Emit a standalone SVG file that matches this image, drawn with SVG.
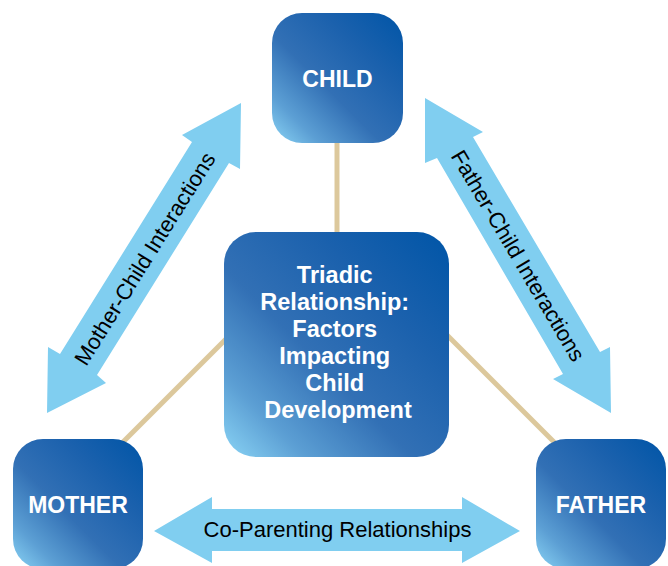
<svg xmlns="http://www.w3.org/2000/svg" width="668" height="566" viewBox="0 0 668 566">
<defs>
<linearGradient id="boxGrad" x1="0" y1="1" x2="1" y2="0">
<stop offset="0" stop-color="#8AD4F5"/>
<stop offset="0.18" stop-color="#5C9FD4"/>
<stop offset="0.42" stop-color="#3270B5"/>
<stop offset="0.7" stop-color="#1B61AD"/>
<stop offset="1" stop-color="#0055A7"/>
</linearGradient>
<style>
.box{fill:url(#boxGrad);}
.lbl{font-family:"Liberation Sans",Arial,sans-serif;font-weight:bold;fill:#ffffff;text-anchor:middle;}
.arrow{fill:#80CEF0;}
.atxt{font-family:"Liberation Sans",Arial,sans-serif;font-size:22px;fill:#000000;text-anchor:middle;}
.link{stroke:#DCC89C;stroke-width:5;fill:none;}
</style>
</defs>
<rect width="668" height="566" fill="#ffffff"/>
<g id="connectors">
<line class="link" x1="337" y1="130" x2="337" y2="245"/>
<line class="link" x1="240" y1="325" x2="100" y2="465"/>
<line class="link" x1="435" y1="323" x2="575" y2="463"/>
<g id="mother-child">
<polygon class="arrow" points="47,413 48,347 60,354 192,142 182,135 241,103 240,169 229,163 97,375 106,383"/>
<text class="atxt" transform="translate(144.5,258.5) rotate(-58.1)" x="0" y="8">Mother-Child Interactions</text>
</g>
<g id="father-child">
<polygon class="arrow" points="425,98 483,132 473,137 600,352 610,347 611,413 553,379 563,374 437,158 425,163"/>
<text class="atxt" transform="translate(518.5,255.5) rotate(59.4)" x="0" y="8">Father-Child Interactions</text>
</g>
<g id="co-parenting">
<polygon class="arrow" points="154,531 212,497 212,509 462,509 462,497 520,531 462,563 462,551 212,551 212,563"/>
<text class="atxt" x="337.5" y="537">Co-Parenting Relationships</text>
</g>
</g>
<g id="child">
<rect class="box" x="272" y="13" width="131" height="130" rx="30" ry="30"/>
<text class="lbl" x="337.5" y="87" font-size="23">CHILD</text>
</g>
<g id="center">
<rect class="box" x="224" y="232" width="225" height="225" rx="32" ry="32"/>
<text class="lbl" font-size="23.5">
<tspan x="338" y="283">Triadic</tspan>
<tspan x="338" y="310">Relationship:</tspan>
<tspan x="338" y="337">Factors</tspan>
<tspan x="338" y="364">Impacting</tspan>
<tspan x="338" y="391">Child</tspan>
<tspan x="338" y="418">Development</tspan>
</text>
</g>
<g id="mother">
<rect class="box" x="13" y="439" width="130" height="130" rx="30" ry="30"/>
<text class="lbl" x="78" y="513" font-size="23">MOTHER</text>
</g>
<g id="father">
<rect class="box" x="536" y="439" width="130" height="130" rx="30" ry="30"/>
<text class="lbl" x="601" y="513" font-size="23">FATHER</text>
</g>
</svg>
